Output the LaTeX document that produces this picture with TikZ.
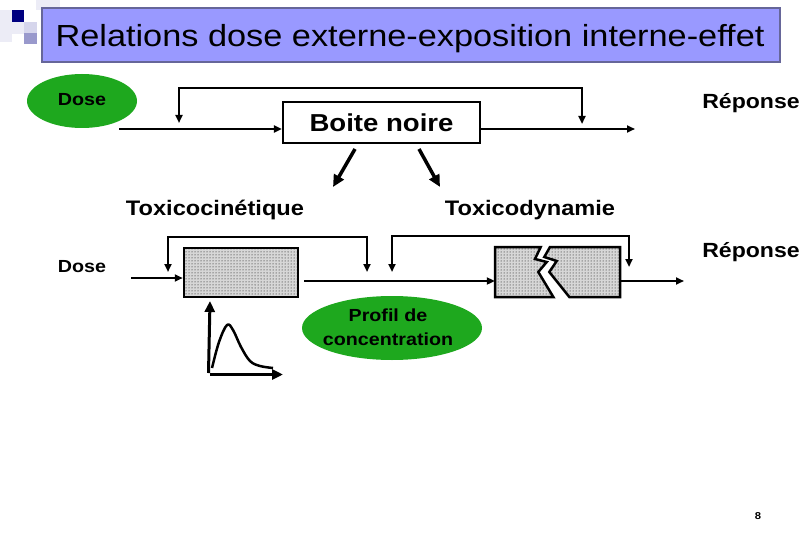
\documentclass[tikz,border=0pt]{standalone}
\usepackage{fontspec}
\setmainfont{Liberation Sans}[FakeStretch=1.125]
\usetikzlibrary{shapes.geometric,arrows.meta,patterns,calc}
\definecolor{ttfill}{RGB}{153,153,255}
\definecolor{ttdraw}{RGB}{102,102,153}
\definecolor{dgreen}{RGB}{30,168,30}
\definecolor{sqnavy}{RGB}{0,0,128}
\definecolor{sqlight}{RGB}{214,214,236}
\definecolor{sqmid}{RGB}{153,153,204}
\definecolor{sqfaint}{RGB}{236,236,246}
\definecolor{dotbg}{RGB}{215,215,215}
\begin{document}
\begin{tikzpicture}[x=1pt,y=-1pt,
  titlebox/.style={draw=ttdraw,fill=ttfill,line width=2.5pt,minimum width=738pt,minimum height=54pt,inner sep=0pt},
  titletext/.style={inner sep=0pt,anchor=base,font=\fontsize{30.5}{36}\selectfont},
  greenell/.style={ellipse,fill=dgreen,inner sep=0pt},
  lbl/.style={inner sep=0pt,font=\fontsize{20.5}{24}\selectfont\bfseries},
  small/.style={inner sep=0pt,font=\fontsize{17.5}{21}\selectfont\bfseries},
  blackbox/.style={draw,line width=2.2pt,minimum width=197pt,minimum height=41pt,inner sep=0pt,font=\fontsize{24.5}{28}\selectfont\bfseries},
  dotbox/.style={draw,line width=2.5pt,pattern=dots,preaction={fill=dotbg},inner sep=0pt},
  conn/.style={line width=2.2pt,-{Triangle[length=8pt,width=7pt]}},
  fb/.style={line width=2.2pt,{Triangle[length=8pt,width=7pt]}-{Triangle[length=8pt,width=7pt]}},
  bigarrow/.style={line width=3.5pt,-{Triangle[length=12pt,width=11pt]}},
  axis/.style={line width=3pt,-{Triangle[length=11pt,width=10pt]}}]
\useasboundingbox (0,0) rectangle (810,540);
\fill[white] (0,0) rectangle (810,540);
% decorative squares
\fill[sqfaint] (0,10) rectangle (12,42);
\fill[sqfaint] (36,0) rectangle (60,10);
\fill[sqfaint] (12,22) rectangle (24,34);
\fill[sqnavy] (12,10) rectangle (24,22);
\fill[sqlight] (24,22) rectangle (37,33);
\fill[sqmid] (24,33) rectangle (37,44);
% title
\node[titlebox] (title) at (411,35) {};
\node[titletext] (titlet) at (410,47) {Relations dose externe-exposition interne-effet};
% top row
\node[greenell,minimum width=110pt,minimum height=54pt] (dose1) at (82,101) {};
\node[small] (dose1t) at (82,100) {Dose};
\node[blackbox] (bn) at (381.5,122.5) {Boite noire};
\node[lbl] (rep1) at (751,103) {Réponse};
\coordinate (in1) at (119,129);
\coordinate (out1) at (635,129);
\draw[conn] (in1) -- (bn.west |- in1);
\draw[conn] (bn.east |- out1) -- (out1);
\coordinate (fbL) at (179,123);
\coordinate (fbR) at (582,124);
\draw[fb] (fbL) -- ++(0,-35) -| (fbR);
% labels and thick arrows
\node[lbl,font=\fontsize{21}{25}\selectfont\bfseries] (tk) at (215,210) {Toxicocinétique};
\node[lbl,font=\fontsize{21}{25}\selectfont\bfseries] (td) at (530,210) {Toxicodynamie};
\coordinate (a1s) at (355,149);
\coordinate (a1e) at (333,187);
\coordinate (a2s) at (419,149);
\coordinate (a2e) at (440,187);
\draw[bigarrow] (a1s) -- (a1e);
\draw[bigarrow] (a2s) -- (a2e);
% lower row
\node[small] (dose2) at (82,267) {Dose};
\node[dotbox,minimum width=114pt,minimum height=49pt] (kb) at (241,272.5) {};
\node[inner sep=0pt,minimum width=125pt,minimum height=50pt] (db) at (557.5,272) {};
\filldraw[line width=2.5pt,pattern=dots,preaction={fill=dotbg}]
  (495,247) -- (540.7,247) -- (535,259) -- (546.7,262) -- (538.3,272) -- (553.3,297) -- (495,297) -- cycle;
\filldraw[line width=2.5pt,pattern=dots,preaction={fill=dotbg}]
  (550,247) -- (620,247) -- (620,297) -- (569.3,297) -- (549.3,272) -- (556.7,261) -- (544.3,257) -- cycle;
\node[lbl] (rep2) at (751,252) {Réponse};
\coordinate (in2) at (131,278);
\draw[conn] (in2) -- (kb.west |- in2);
\coordinate (mid) at (304,281);
\draw[conn] (mid) -- (db.west |- mid);
\coordinate (out2) at (684,281);
\draw[conn] (db.east |- out2) -- (out2);
\coordinate (f1l) at (168,272);
\coordinate (f1r) at (367,272);
\draw[fb] (f1l) -- ++(0,-35) -| (f1r);
\coordinate (f2l) at (392,272);
\coordinate (f2r) at (629,267);
\draw[fb] (f2l) -- ++(0,-36) -| (f2r);
% concentration graph
\coordinate (org) at (210,373);
\coordinate (yax) at (210,301);
\coordinate (xax) at (283,373);
\draw[axis] ([xshift=-1.5pt]org) -- (yax);
\draw[axis] ([yshift=-1.5pt]org) -- ([yshift=-1.5pt]xax);
\draw[line width=2.5pt,line join=round] plot[smooth,tension=0.6] coordinates
  {(212,368) (219,342) (227,325) (233,330) (241,347) (250,361) (260,366) (273,368)};
% profil
\node[greenell,minimum width=180pt,minimum height=64pt] (prof) at (392,328) {};
\node[small,align=center,font=\fontsize{17.5}{24}\selectfont\bfseries] (proft) at (388,327) {Profil de\\concentration};
% page number
\node[inner sep=0pt,font=\fontsize{10}{12}\selectfont\bfseries] (pg) at (758,516) {8};
\end{tikzpicture}
\end{document}
